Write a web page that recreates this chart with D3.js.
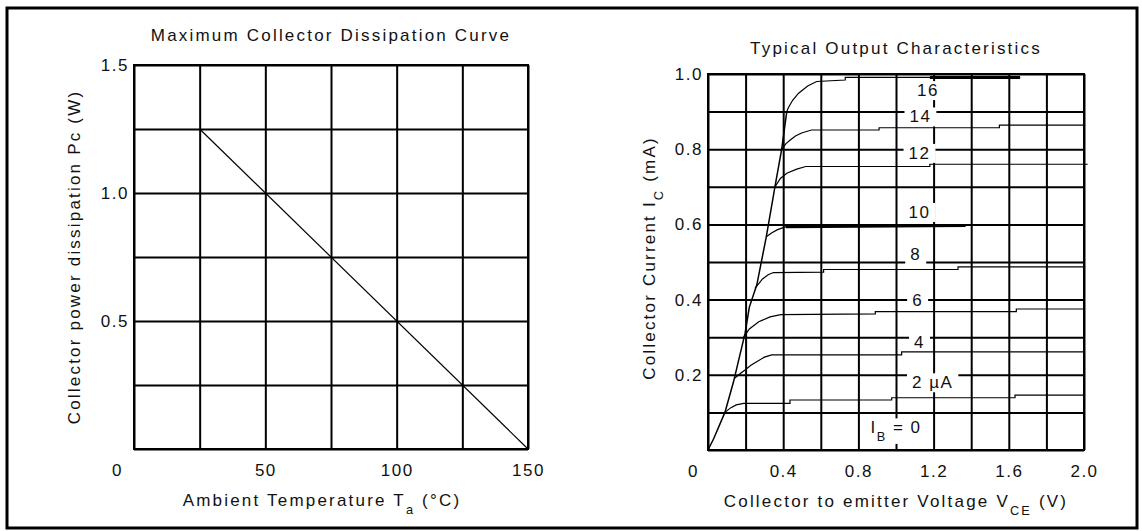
<!DOCTYPE html>
<html>
<head>
<meta charset="utf-8">
<script src="https://cdnjs.cloudflare.com/ajax/libs/d3/7.8.5/d3.min.js"></script>
<style>
  body { margin: 0; background: #fff; }
  svg text { font-family: "Liberation Sans", Arial, sans-serif; fill: #111; }
</style>
</head>
<body>
<svg id="chart" width="1142" height="531"></svg>
<script>
// ---- left chart: maximum collector dissipation ----
var tempTicks = [0, 50, 100, 150];
var tempGrid = [0, 25, 50, 75, 100, 125, 150];
var powerTicks = [0.5, 1.0, 1.5];
var powerGrid = [0, 0.25, 0.5, 0.75, 1.0, 1.25, 1.5];
var derating = [[25, 1.25], [150, 0]];

// ---- right chart: typical output characteristics ----
var vceTicks = [0, 0.4, 0.8, 1.2, 1.6, 2.0];
var vceGrid = [0, 0.2, 0.4, 0.6, 0.8, 1.0, 1.2, 1.4, 1.6, 1.8, 2.0];
var icTicks = [0.2, 0.4, 0.6, 0.8, 1.0];
var icGrid = [0, 0.1, 0.2, 0.3, 0.4, 0.5, 0.6, 0.7, 0.8, 0.9, 1.0];

// saturation edge shared by all base currents (Vce, Ic)
var envelope = [[0, 0], [0.03, 0.03], [0.09, 0.10], [0.135, 0.18], [0.197, 0.31], [0.22, 0.38],
  [0.26, 0.44], [0.31, 0.567], [0.356, 0.70], [0.392, 0.80], [0.419, 0.90]];

// each curve leaves the edge, bends over and runs flat (Vce, Ic)
var ib2 = [[0.09, 0.10], [0.12, 0.112], [0.15, 0.12], [0.19, 0.124], [0.436, 0.124], [0.436, 0.133],
  [0.977, 0.133], [0.977, 0.139], [1.633, 0.139], [1.633, 0.146], [2.0, 0.146]];
var ib4 = [[0.14, 0.19], [0.17, 0.203], [0.197, 0.213], [0.23, 0.226], [0.259, 0.235], [0.30, 0.247],
  [0.339, 0.253], [1.03, 0.253], [1.03, 0.261], [2.0, 0.261]];
var ib6 = [[0.19, 0.30], [0.22, 0.322], [0.27, 0.341], [0.33, 0.354], [0.387, 0.36], [0.89, 0.362],
  [0.89, 0.368], [1.64, 0.368], [1.64, 0.375], [2.0, 0.375]];
var ib8 = [[0.25, 0.43], [0.29, 0.455], [0.32, 0.466], [0.348, 0.472], [0.615, 0.473], [0.615, 0.48],
  [1.33, 0.48], [1.33, 0.487], [2.0, 0.487]];
var ib10 = [[0.31, 0.567], [0.34, 0.578], [0.37, 0.586], [0.415, 0.594], [1.37, 0.597]];
var ib12 = [[0.356, 0.70], [0.385, 0.722], [0.419, 0.736], [0.472, 0.747], [0.52, 0.754], [1.18, 0.754],
  [1.18, 0.76], [2.02, 0.76]];
var ib14 = [[0.392, 0.80], [0.415, 0.815], [0.436, 0.824], [0.465, 0.835], [0.498, 0.843], [0.55, 0.851],
  [0.91, 0.851], [0.91, 0.857], [1.55, 0.857], [1.55, 0.864], [2.0, 0.864]];
var ib16 = [[0.419, 0.90], [0.426, 0.909], [0.45, 0.93], [0.482, 0.949], [0.53, 0.968], [0.578, 0.98],
  [0.73, 0.984], [0.73, 0.991], [1.66, 0.991]];
// parts that are printed heavier in the datasheet
var heavy10 = [[0.415, 0.594], [1.37, 0.597]];
var heavy16 = [[1.18, 0.991], [1.66, 0.991]];

// curve labels: text and where it sits (Vce, Ic)
var ibNames = ["16", "14", "12", "10", "8", "6", "4", "2 µA"];
var ibLabelAt = [[1.17, 0.957], [1.13, 0.887], [1.125, 0.79], [1.125, 0.633], [1.105, 0.52],
  [1.115, 0.40], [1.125, 0.288], [1.195, 0.18]];
var ibZeroAt = [1.0, 0.06];

var svg = d3.select("#chart");
var FS = 17;
var LS = "2.2px";   // the print is widely spaced
var TLS = "1.5px";

// outer frame
svg.append("rect")
  .attr("x", 7).attr("y", 8).attr("width", 1130).attr("height", 520)
  .attr("fill", "none").attr("stroke", "#000").attr("stroke-width", 3);

function gridChart(box, xDom, yDom, xGrid, yGrid) {
  var x = d3.scaleLinear().domain(xDom).range([box.x0, box.x1]);
  var y = d3.scaleLinear().domain(yDom).range([box.y1, box.y0]);
  var g = svg.append("g");

  g.append("g")
    .attr("transform", "translate(0," + box.y1 + ")")
    .call(d3.axisBottom(x).tickValues(xGrid).tickSize(-(box.y1 - box.y0)).tickFormat(""))
    .call(function (a) { a.select(".domain").remove(); });
  g.append("g")
    .attr("transform", "translate(" + box.x0 + ",0)")
    .call(d3.axisLeft(y).tickValues(yGrid).tickSize(-(box.x1 - box.x0)).tickFormat(""))
    .call(function (a) { a.select(".domain").remove(); });
  g.selectAll(".tick line").attr("stroke", "#000").attr("stroke-width", 2);

  g.append("rect")
    .attr("x", box.x0).attr("y", box.y0)
    .attr("width", box.x1 - box.x0).attr("height", box.y1 - box.y0)
    .attr("fill", "none").attr("stroke", "#000").attr("stroke-width", 2);
  return { x: x, y: y, g: g };
}

function tickLabels(c, box, xTicks, yTicks, xFmt, yFmt, zeroShift) {
  var ax = c.g.append("g")
    .attr("transform", "translate(0," + box.y1 + ")")
    .call(d3.axisBottom(c.x).tickValues(xTicks).tickSize(0).tickPadding(15).tickFormat(xFmt));
  ax.select(".domain").remove();
  ax.selectAll("text").filter(function (d) { return d === 0; })
    .attr("x", -zeroShift);
  var ay = c.g.append("g")
    .attr("transform", "translate(" + box.x0 + ",0)")
    .call(d3.axisLeft(c.y).tickValues(yTicks).tickSize(0).tickPadding(5).tickFormat(yFmt));
  ay.select(".domain").remove();
  c.g.selectAll(".tick text")
    .attr("font-family", "'Liberation Sans', Arial, sans-serif")
    .attr("font-size", FS).attr("fill", "#111")
    .style("letter-spacing", TLS);
}

function text(x, y, str, rot) {
  var t = svg.append("text")
    .attr("text-anchor", "middle")
    .attr("font-size", FS)
    .style("letter-spacing", LS)
    .attr("transform", "translate(" + x + "," + y + ")" + (rot ? " rotate(-90)" : ""));
  if (typeof str === "string") t.text(str);
  else str.forEach(function (p) {
    var s = t.append("tspan").text(p[0]);
    if (p[1]) s.attr("baseline-shift", "sub").attr("font-size", FS * 0.75);
  });
  return t;
}

// ---- left chart ----
var LB = { x0: 134, x1: 528, y0: 65, y1: 449 };
var L = gridChart(LB, [0, 150], [0, 1.5], tempGrid, powerGrid);
tickLabels(L, LB, tempTicks, powerTicks, d3.format("d"), d3.format(".1f"), 17);

L.g.append("path")
  .datum(derating)
  .attr("fill", "none").attr("stroke", "#000").attr("stroke-width", 1.2)
  .attr("d", d3.line().x(function (d) { return L.x(d[0]); }).y(function (d) { return L.y(d[1]); }));

text(331, 41, "Maximum Collector Dissipation Curve");
text(80, 257, "Collector power dissipation  Pc (W)", true);
text(322, 506, [["Ambient Temperature  T"], ["a", true], [" (°C)"]]);

// ---- right chart ----
var RB = { x0: 708, x1: 1084, y0: 74, y1: 450 };
var R = gridChart(RB, [0, 2.0], [0, 1.0], vceGrid, icGrid);
tickLabels(R, RB, vceTicks, icTicks,
  function (d) { return d === 0 ? "0" : d3.format(".1f")(d); }, d3.format(".1f"), 15);

var line = d3.line().x(function (d) { return R.x(d[0]); }).y(function (d) { return R.y(d[1]); });

// white boxes behind the curve labels break the grid like in the print
var labels = ibNames.map(function (n, i) {
  return { name: [[n]], at: ibLabelAt[i] };
});
labels.push({ name: [["I"], ["B", true], [" = 0"]], at: ibZeroAt });

var bgLayer = R.g.append("g");
var curveLayer = R.g.append("g");
var textLayer = R.g.append("g");

labels.forEach(function (l) {
  var t = textLayer.append("text")
    .attr("x", R.x(l.at[0])).attr("y", R.y(l.at[1]))
    .attr("dy", "0.35em")
    .attr("text-anchor", "middle").attr("font-size", FS)
    .style("letter-spacing", TLS);
  l.name.forEach(function (p) {
    var s = t.append("tspan").text(p[0]);
    if (p[1]) s.attr("baseline-shift", "sub").attr("font-size", FS * 0.75);
  });
  var b = t.node().getBBox();
  bgLayer.append("rect")
    .attr("x", b.x - 5).attr("y", b.y)
    .attr("width", b.width + 10).attr("height", b.height)
    .attr("fill", "#fff");
});

curveLayer.append("path").datum(envelope)
  .attr("fill", "none").attr("stroke", "#000").attr("stroke-width", 1.5).attr("d", line);
[ib2, ib4, ib6, ib8, ib10, ib12, ib14, ib16].forEach(function (c) {
  curveLayer.append("path").datum(c)
    .attr("fill", "none").attr("stroke", "#000").attr("stroke-width", 1.2).attr("d", line);
});
[heavy10, heavy16].forEach(function (c) {
  curveLayer.append("path").datum(c)
    .attr("fill", "none").attr("stroke", "#000").attr("stroke-width", 3).attr("d", line);
});

text(896, 54, "Typical Output Characteristics");
text(655, 258, [["Collector Current  I"], ["C", true], [" (mA)"]], true);
text(896, 507, [["Collector to emitter Voltage  V"], ["CE", true], [" (V)"]]);
</script>
</body>
</html>
